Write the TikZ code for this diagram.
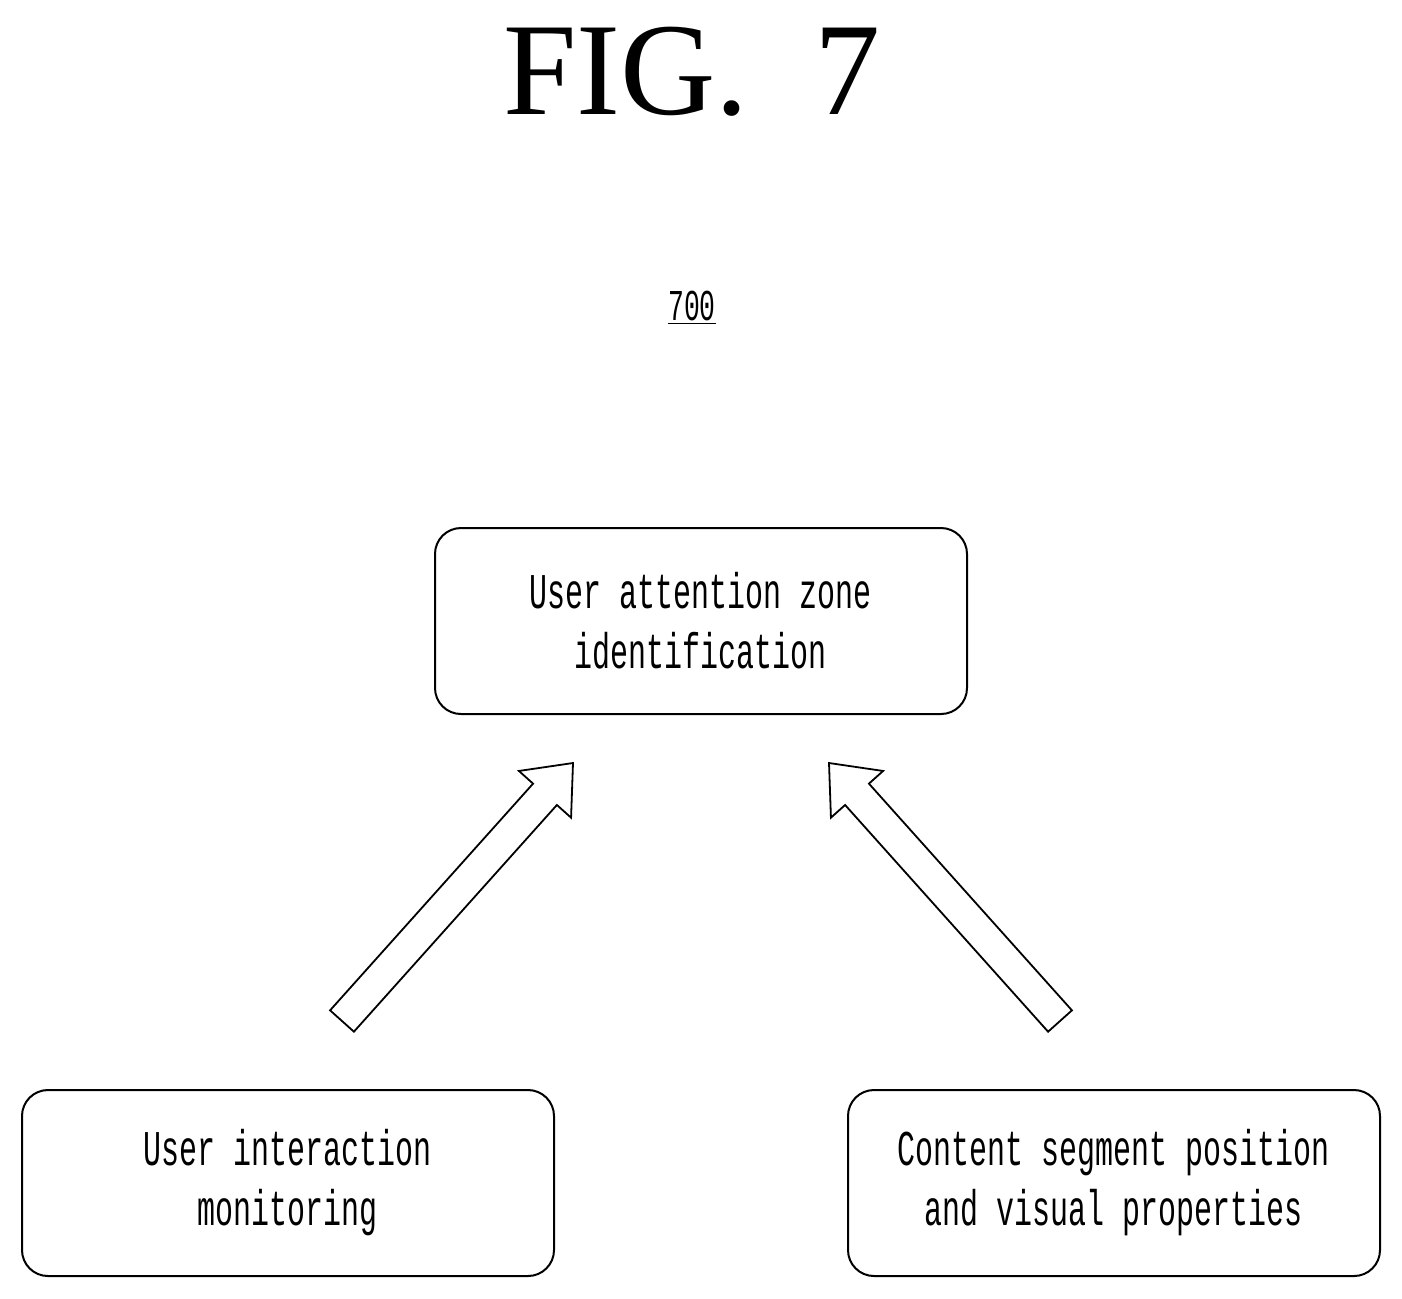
\documentclass[tikz,border=0pt]{standalone}
\usepackage{fontspec}
\setmainfont{Liberation Serif}
\newfontfamily\boxfont[FakeStretch=0.6]{Liberation Mono}
\usetikzlibrary{positioning,calc}
\tikzset{
  block/.style={draw,rounded corners=13pt,line width=1pt,minimum width=266pt,minimum height=93pt,
    align=center,font=\boxfont\fontsize{25pt}{30pt}\selectfont},
}
% hollow arrow from tail #1 to head #2
\newcommand{\hollowarrow}[2]{%
  \draw[line width=0.9pt]
    ($(#1)!8pt!90:(#2)$) --
    ($($(#2)!21pt!(#1)$)!8pt!90:(#2)$) --
    ($($(#2)!21pt!(#1)$)!17.5pt!90:(#2)$) --
    (#2) --
    ($($(#2)!21pt!(#1)$)!17.5pt!-90:(#2)$) --
    ($($(#2)!21pt!(#1)$)!8pt!-90:(#2)$) --
    ($(#1)!8pt!-90:(#2)$) -- cycle;}
\begin{document}
\begin{tikzpicture}[x=0.5pt,y=-0.5pt]
  \useasboundingbox (0,0) rectangle (1402,1298);
  % title and reference number
  \node (fig) at (692,72) {\fontsize{66pt}{70pt}\selectfont FIG.\ \ 7};
  \node[font=\boxfont\fontsize{22pt}{26pt}\selectfont] (num) at (692,308) {\underline{700}};
  % blocks
  \node[block] (zone) at (701,621) {User attention zone\\identification};
  \node[block] (inter) at (288,1183) {User interaction\\monitoring};
  \node[block] (content) at (1114,1183) {Content segment position\\and visual properties};
  % arrows
  \coordinate (lt) at (342,1021);
  \coordinate (lh) at (573,763);
  \coordinate (rt) at (1060,1021);
  \coordinate (rh) at (829,763);
  \hollowarrow{lt}{lh}
  \hollowarrow{rt}{rh}
\end{tikzpicture}
\end{document}
